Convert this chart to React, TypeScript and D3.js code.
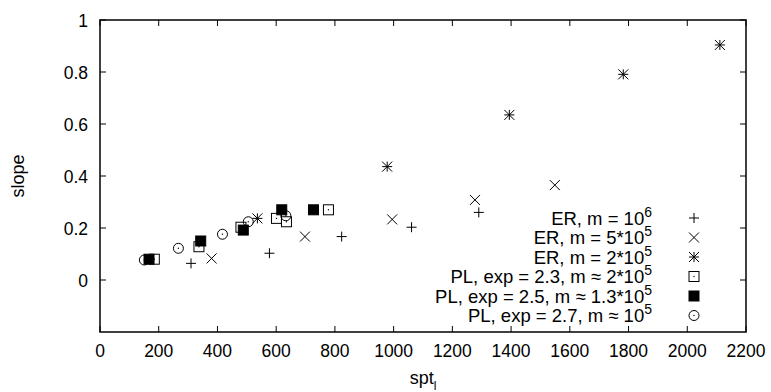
import React from "react";
import * as d3 from "d3";

const erM6X = [310, 577, 823, 1061, 1290];
const erM6Y = [0.064, 0.103, 0.167, 0.203, 0.26];
const erM5X = [380, 698, 995, 1277, 1549];
const erM5Y = [0.083, 0.167, 0.233, 0.308, 0.365];
const erM2X = [536, 978, 1394, 1782, 2111];
const erM2Y = [0.237, 0.436, 0.635, 0.791, 0.904];
const pl23X = [185, 337, 480, 601, 635, 778];
const pl23Y = [0.08, 0.128, 0.203, 0.237, 0.224, 0.27];
const pl25X = [167, 343, 488, 619, 727];
const pl25Y = [0.08, 0.15, 0.192, 0.27, 0.27];
const pl27X = [151, 267, 417, 505, 633];
const pl27Y = [0.077, 0.122, 0.176, 0.224, 0.247];

const xTicks = [0, 200, 400, 600, 800, 1000, 1200, 1400, 1600, 1800, 2000, 2200];
const yTicks = [0, 0.2, 0.4, 0.6, 0.8, 1];

type Kind = "plus" | "cross" | "star" | "openSq" | "fillSq" | "dotCircle";

const series: { label: string; sup: string; kind: Kind; xs: number[]; ys: number[] }[] = [
  { label: "ER, m = 10", sup: "6", kind: "plus", xs: erM6X, ys: erM6Y },
  { label: "ER, m = 5*10", sup: "5", kind: "cross", xs: erM5X, ys: erM5Y },
  { label: "ER, m = 2*10", sup: "5", kind: "star", xs: erM2X, ys: erM2Y },
  { label: "PL, exp = 2.3, m \u2248 2*10", sup: "5", kind: "openSq", xs: pl23X, ys: pl23Y },
  { label: "PL, exp = 2.5, m \u2248 1.3*10", sup: "5", kind: "fillSq", xs: pl25X, ys: pl25Y },
  { label: "PL, exp = 2.7, m \u2248 10", sup: "5", kind: "dotCircle", xs: pl27X, ys: pl27Y },
];

const FONT = "'Liberation Sans', Arial, sans-serif";

function Marker({ kind, cx, cy }: { kind: Kind; cx: number; cy: number }) {
  const s = 5;
  const st = { stroke: "#000", strokeWidth: 1, fill: "none" };
  if (kind === "plus")
    return (
      <g {...st}>
        <line x1={cx - s} x2={cx + s} y1={cy} y2={cy} />
        <line x1={cx} x2={cx} y1={cy - s} y2={cy + s} />
      </g>
    );
  if (kind === "cross")
    return (
      <g {...st}>
        <line x1={cx - s} x2={cx + s} y1={cy - s} y2={cy + s} />
        <line x1={cx - s} x2={cx + s} y1={cy + s} y2={cy - s} />
      </g>
    );
  if (kind === "star")
    return (
      <g {...st}>
        <line x1={cx - s} x2={cx + s} y1={cy} y2={cy} />
        <line x1={cx} x2={cx} y1={cy - s} y2={cy + s} />
        <line x1={cx - s} x2={cx + s} y1={cy - s} y2={cy + s} />
        <line x1={cx - s} x2={cx + s} y1={cy + s} y2={cy - s} />
      </g>
    );
  if (kind === "openSq")
    return (
      <g>
        <rect x={cx - s} y={cy - s} width={2 * s} height={2 * s} fill="none" stroke="#000" strokeWidth={1} />
        <rect x={cx - 0.6} y={cy - 0.6} width={1.2} height={1.2} fill="#000" />
      </g>
    );
  if (kind === "fillSq")
    return <rect x={cx - s} y={cy - s} width={2 * s} height={2 * s} fill="#000" stroke="#000" strokeWidth={1} />;
  return (
    <g>
      <circle cx={cx} cy={cy} r={s} fill="none" stroke="#000" strokeWidth={1} />
      <rect x={cx - 0.6} y={cy - 0.6} width={1.2} height={1.2} fill="#000" />
    </g>
  );
}

export default function App() {
  const W = 771;
  const H = 392;
  const left = 100, right = 746, top = 20, bottom = 332;
  const x = d3.scaleLinear().domain([0, 2200]).range([left, right]);
  const y = d3.scaleLinear().domain([-0.2, 1]).range([bottom, top]);
  const tl = 6;
  const fs = 17.5;
  const lfs = 18.5;
  const legX = 694;
  const legTextX = 652;
  const legY0 = 218;
  const legStep = 19.5;

  return (
    <svg width={W} height={H} style={{ position: "absolute", left: 0, top: 0 }} fontFamily={FONT}>
      <rect width={W} height={H} fill="#fff" />
      {xTicks.map((t) => (
        <g key={"x" + t}>
          <line x1={x(t)} x2={x(t)} y1={bottom} y2={bottom - tl} stroke="#000" />
          <line x1={x(t)} x2={x(t)} y1={top} y2={top + tl} stroke="#000" />
          <text x={x(t)} y={357} textAnchor="middle" fontSize={fs}>
            {t}
          </text>
        </g>
      ))}
      {yTicks.map((t) => (
        <g key={"y" + t}>
          <line x1={left} x2={left + tl} y1={y(t)} y2={y(t)} stroke="#000" />
          <line x1={right} x2={right - tl} y1={y(t)} y2={y(t)} stroke="#000" />
          <text x={88} y={y(t) + 6.5} textAnchor="end" fontSize={fs}>
            {d3.format("")(t)}
          </text>
        </g>
      ))}
      <rect x={left} y={top} width={right - left} height={bottom - top} fill="none" stroke="#000" strokeWidth={1.5} />
      <text transform={`translate(24,${(top + bottom) / 2}) rotate(-90)`} textAnchor="middle" fontSize={18}>
        slope
      </text>
      <text x={(left + right) / 2} y={384} textAnchor="middle" fontSize={18}>
        spt
        <tspan fontSize={12} dy={6}>l</tspan>
      </text>
      {series.map((s, i) => (
        <g key={s.label}>
          <text x={legTextX} y={legY0 + i * legStep + 6.5} textAnchor="end" fontSize={lfs}>
            {s.label}
            <tspan fontSize={14} dy={-8}>{s.sup}</tspan>
          </text>
          <Marker kind={s.kind} cx={legX} cy={legY0 + i * legStep} />
          {s.xs.map((v, j) => (
            <Marker key={j} kind={s.kind} cx={x(v)} cy={y(s.ys[j])} />
          ))}
        </g>
      ))}
    </svg>
  );
}
